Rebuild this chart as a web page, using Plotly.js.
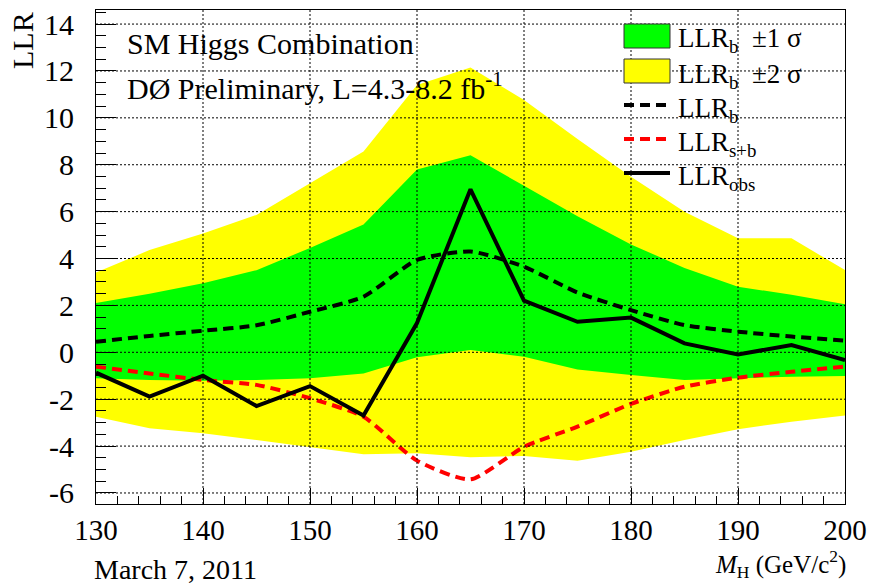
<!DOCTYPE html>
<html>
<head>
<meta charset="utf-8">
<script src="https://cdn.plot.ly/plotly-3.0.1.min.js"></script>
<style>html,body{margin:0;padding:0;background:#fff;}#chart{width:872px;height:584px;}</style>
</head>
<body>
<div id="chart"></div>
<script>
// Higgs mass points (GeV/c^2)
const massPoints = [130,135,140,145,150,155,160,165,170,175,180,185,190,195,200];
// LLR observed
const llrObs = [-0.87,-1.89,-1.0,-2.29,-1.44,-2.7,1.25,6.95,2.2,1.3,1.48,0.38,-0.09,0.31,-0.33];
// LLR background-only expectation
const llrB = [0.45,0.7,0.92,1.15,1.73,2.37,3.94,4.3,3.65,2.55,1.8,1.16,0.88,0.67,0.5];
// LLR signal+background expectation
const llrSB = [-0.61,-0.9,-1.18,-1.39,-1.96,-2.75,-4.62,-5.42,-4.03,-3.17,-2.2,-1.47,-1.08,-0.83,-0.61];
// +-1 sigma band around LLR_b
const band1Up = [2.1,2.5,2.95,3.5,4.45,5.45,7.8,8.4,7.1,5.8,4.6,3.6,2.8,2.45,2.05];
const band1Lo = [-1.11,-1.18,-1.21,-1.18,-1.11,-0.9,-0.21,0.1,-0.19,-0.73,-0.97,-1.18,-1.11,-1.04,-1.01];
// +-2 sigma band around LLR_b
const band2Up = [3.4,4.36,5.07,5.86,7.21,8.56,11.4,12.15,10.76,9.1,7.49,6.0,4.86,4.86,3.51];
const band2Lo = [-2.75,-3.24,-3.45,-3.74,-4.03,-4.35,-4.31,-4.48,-4.42,-4.62,-4.24,-3.74,-3.28,-2.96,-2.7];
// tick labels
const xTickVals = [130,140,150,160,170,180,190,200];
const xTickText = ['130','140','150','160','170','180','190','200'];
const yTickVals = [-6,-4,-2,0,2,4,6,8,10,12,14];
const yTickText = ['-6','-4','-2','0','2','4','6','8','10','12','14'];

// legend labels
const legendLabels = ['LLR<sub>b</sub>  \u00b11 \u03c3','LLR<sub>b</sub>  \u00b12 \u03c3','LLR<sub>b</sub>','LLR<sub>s+b</sub>','LLR<sub>obs</sub>'];

const FONT = "'Liberation Serif', 'Times New Roman', serif";
const L = 96, R = 845, T = 10, B = 504;
const W = 872, H = 584;
const X0 = 130, X1 = 200;
const px = v => (v - L) / (R - L);
const py = v => (B - v) / (B - T);

function band(up, lo) {
  return {
    x: massPoints.concat(massPoints.slice().reverse()),
    y: up.concat(lo.slice().reverse())
  };
}
const b2 = band(band2Up, band2Lo);
const b1 = band(band1Up, band1Lo);

const traces = [
  {x: b2.x, y: b2.y, type: 'scatter', mode: 'lines', fill: 'toself', fillcolor: '#ffff00', line: {width: 0, color: '#ffff00'}, hoverinfo: 'skip', showlegend: false},
  {x: b1.x, y: b1.y, type: 'scatter', mode: 'lines', fill: 'toself', fillcolor: '#00ff00', line: {width: 0, color: '#00ff00'}, hoverinfo: 'skip', showlegend: false},
  {x: massPoints, y: llrB, type: 'scatter', mode: 'lines', line: {color: '#000', width: 4, dash: '10px,6px', shape: 'spline', smoothing: 0.6}, showlegend: false},
  {x: massPoints, y: llrSB, type: 'scatter', mode: 'lines', line: {color: '#ff0000', width: 4, dash: '10px,6px', shape: 'spline', smoothing: 0.6}, showlegend: false},
  {x: massPoints, y: llrObs, type: 'scatter', mode: 'lines', line: {color: '#000', width: 4}, showlegend: false}
];

const shapes = [];
const annotations = [];
// dotted grid drawn over the bands (as in the reference)
xTickVals.filter(v => v > X0 && v < X1).forEach(v => {
  shapes.push({type: 'line', xref: 'x', yref: 'paper', x0: v, x1: v, y0: 0, y1: 1, layer: 'above', line: {color: '#000', width: 1, dash: '2px,2px'}});
});
yTickVals.forEach(v => {
  shapes.push({type: 'line', xref: 'paper', yref: 'y', x0: 0, x1: 1, y0: v, y1: v, layer: 'above', line: {color: '#000', width: 1, dash: '2px,2px'}});
});
// legend symbols
const rowY = [35, 71, 105, 139, 173];
shapes.push({type: 'rect', xref: 'paper', yref: 'paper', x0: px(624), x1: px(670), y0: py(24), y1: py(48), fillcolor: '#00ff00', layer: 'above', line: {color: '#333', width: 1}});
shapes.push({type: 'rect', xref: 'paper', yref: 'paper', x0: px(624), x1: px(670), y0: py(59), y1: py(83), fillcolor: '#ffff00', layer: 'above', line: {color: '#333', width: 1}});
shapes.push({type: 'line', xref: 'paper', yref: 'paper', x0: px(624), x1: px(670), y0: py(105), y1: py(105), layer: 'above', line: {color: '#000', width: 4, dash: '10px,6px'}});
shapes.push({type: 'line', xref: 'paper', yref: 'paper', x0: px(624), x1: px(670), y0: py(139), y1: py(139), layer: 'above', line: {color: '#ff0000', width: 4, dash: '10px,6px'}});
shapes.push({type: 'line', xref: 'paper', yref: 'paper', x0: px(624), x1: px(670), y0: py(173), y1: py(173), layer: 'above', line: {color: '#000', width: 4}});
legendLabels.forEach((t, i) => {
  annotations.push({xref: 'paper', yref: 'paper', x: px(676), y: py(rowY[i] + 5), xanchor: 'left', yanchor: 'middle', text: t, showarrow: false, font: {family: FONT, size: 27, color: '#000'}});
});
annotations.push({xref: 'paper', yref: 'paper', x: px(125), y: py(44), xanchor: 'left', yanchor: 'middle', text: 'SM Higgs Combination', showarrow: false, font: {family: FONT, size: 30, color: '#000'}});
annotations.push({xref: 'paper', yref: 'paper', x: px(125), y: py(86), xanchor: 'left', yanchor: 'middle', text: 'D\u00d8 Preliminary, L=4.3-8.2 fb<sup>-1</sup>', showarrow: false, font: {family: FONT, size: 30, color: '#000'}});
annotations.push({xref: 'paper', yref: 'paper', x: px(23), y: py(41), xanchor: 'center', yanchor: 'middle', textangle: -90, text: 'LLR', showarrow: false, font: {family: FONT, size: 30, color: '#000'}});
annotations.push({xref: 'paper', yref: 'paper', x: px(92), y: py(569), xanchor: 'left', yanchor: 'middle', text: 'March 7, 2011', showarrow: false, font: {family: FONT, size: 28, color: '#000'}});
annotations.push({xref: 'paper', yref: 'paper', x: px(847), y: py(583), xanchor: 'right', yanchor: 'bottom', text: '<i>M</i><sub>H</sub> (GeV/c<sup>2</sup>)', showarrow: false, borderpad: 0, font: {family: FONT, size: 25, color: '#000'}});

const layout = {
  width: W, height: H,
  margin: {l: L, r: W - R, t: T, b: H - B, pad: 0},
  paper_bgcolor: '#fff', plot_bgcolor: '#fff',
  font: {family: FONT, color: '#000'},
  showlegend: false,
  xaxis: {
    range: [X0, X1], tickmode: 'array', tickvals: xTickVals, ticktext: xTickText,
    ticks: 'inside', ticklen: 16, tickwidth: 1, tickcolor: '#000',
    minor: {tickmode: 'linear', tick0: 130, dtick: 2, ticks: 'inside', ticklen: 8, tickcolor: '#000', showgrid: false},
    showgrid: false,
    showline: true, linecolor: '#000', linewidth: 1, mirror: true, zeroline: false,
    tickfont: {family: FONT, size: 29, color: '#000'}, ticklabelstandoff: 0
  },
  yaxis: {
    range: [-6.47, 14.6], tickmode: 'array', tickvals: yTickVals, ticktext: yTickText,
    ticks: 'inside', ticklen: 20, tickwidth: 1, tickcolor: '#000',
    minor: {tickmode: 'linear', tick0: 0, dtick: 0.5, ticks: 'inside', ticklen: 10, tickcolor: '#000', showgrid: false},
    showgrid: false,
    showline: true, linecolor: '#000', linewidth: 1, mirror: true, zeroline: false,
    tickfont: {family: FONT, size: 30, color: '#000'}, ticklabelstandoff: 15
  },
  shapes: shapes,
  annotations: annotations
};

Plotly.newPlot('chart', traces, layout, {staticPlot: true, displayModeBar: false});
</script>
</body>
</html>
